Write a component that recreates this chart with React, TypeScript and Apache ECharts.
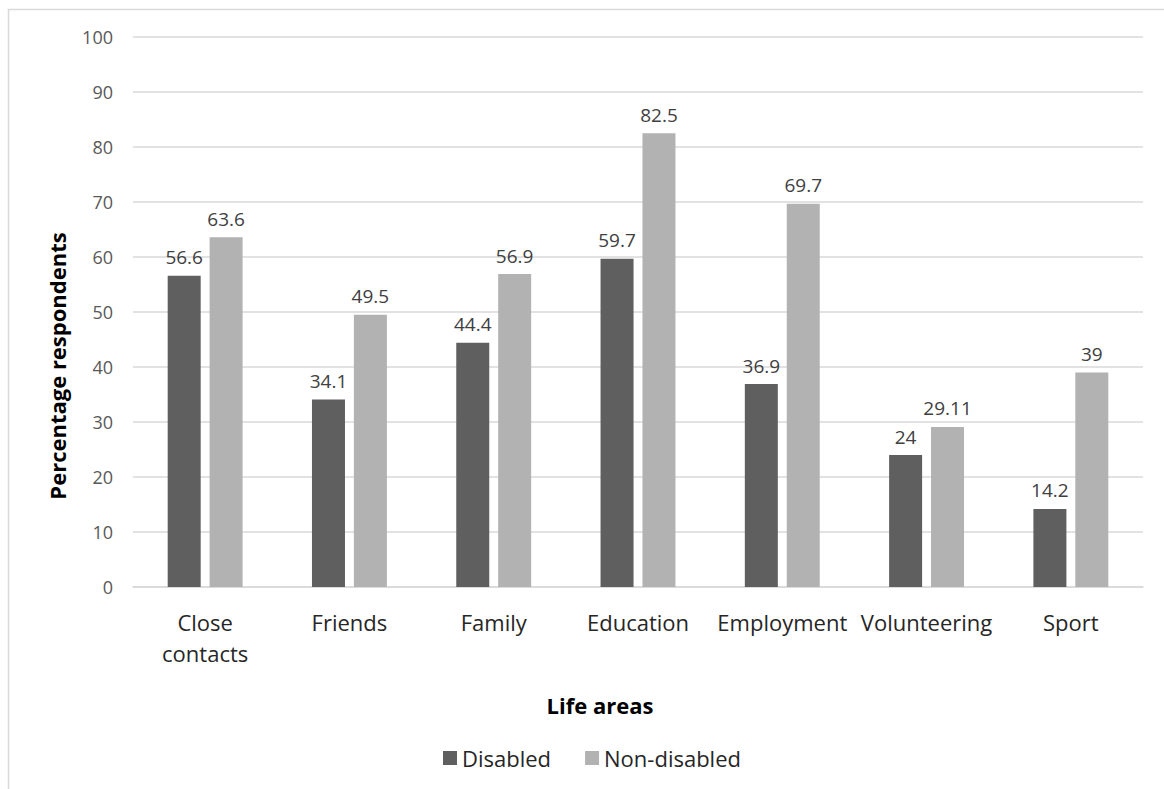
import React, { useEffect, useRef } from "react";
import * as echarts from "echarts";

const categories = [
  "Close\ncontacts",
  "Friends",
  "Family",
  "Education",
  "Employment",
  "Volunteering",
  "Sport",
];
const disabled = [56.6, 34.1, 44.4, 59.7, 36.9, 24, 14.2];
const nonDisabled = [63.6, 49.5, 56.9, 82.5, 69.7, 29.11, 39];
const yMin = 0;
const yMax = 100;
const yStep = 10;
const xTitle = "Life areas";
const yTitle = "Percentage respondents";

const FONT = "'Open Sans', Lato, sans-serif";

export default function App() {
  const ref = useRef<HTMLDivElement>(null);

  useEffect(() => {
    if (!ref.current) return;
    const chart = echarts.init(ref.current, undefined, { renderer: "svg" });
    const labelStyle = {
      show: true,
      position: "top" as const,
      distance: 9,
      color: "#404040",
      fontSize: 19,
      fontFamily: FONT,
    };
    const titleStyle = {
      fill: "#000000",
      font: `bold 22px ${FONT}`,
      textAlign: "center" as const,
      textVerticalAlign: "middle" as const,
    };
    chart.setOption({
      animation: false,
      backgroundColor: "#ffffff",
      textStyle: { fontFamily: FONT },
      graphic: [
        {
          type: "rect",
          shape: { x: 8.5, y: 9.5, width: 1300, height: 1000 },
          style: { fill: "none", stroke: "#d9d9d9", lineWidth: 1.5 },
          silent: true,
        },
        {
          type: "text",
          x: 57,
          y: 366,
          rotation: Math.PI / 2,
          style: { ...titleStyle, text: yTitle },
          silent: true,
        },
        {
          type: "text",
          x: 600,
          y: 705,
          style: { ...titleStyle, text: xTitle },
          silent: true,
        },
      ],
      grid: { left: 133, right: 21, top: 37, bottom: 202 },
      legend: {
        bottom: 15,
        left: 438,
        itemWidth: 14,
        itemHeight: 14,
        itemGap: 34,
        icon: "rect",
        textStyle: { fontSize: 22, color: "#262626", fontFamily: FONT },
        data: ["Disabled", "Non-disabled"],
      },
      xAxis: {
        type: "category",
        data: categories,
        axisLine: { lineStyle: { color: "#d9d9d9", width: 1.5 } },
        axisTick: { show: false },
        axisLabel: {
          color: "#262626",
          fontSize: 22,
          margin: 19,
          lineHeight: 31,
          interval: 0,
          fontFamily: FONT,
        },
      },
      yAxis: {
        type: "value",
        min: yMin,
        max: yMax,
        interval: yStep,
        axisLine: { show: false },
        axisTick: { show: false },
        axisLabel: { color: "#595959", fontSize: 18, margin: 20, fontFamily: FONT },
        splitLine: { lineStyle: { color: "#d9d9d9", width: 1.5 } },
      },
      series: [
        {
          name: "Disabled",
          type: "bar",
          data: disabled,
          barWidth: 33,
          barGap: "27%",
          itemStyle: { color: "#5f5f5f" },
          label: labelStyle,
        },
        {
          name: "Non-disabled",
          type: "bar",
          data: nonDisabled,
          barWidth: 33,
          barGap: "27%",
          itemStyle: { color: "#b2b2b2" },
          label: labelStyle,
        },
      ],
    });
    return () => chart.dispose();
  }, []);

  return (
    <div
      ref={ref}
      style={{ position: "fixed", left: 0, top: 0, width: 1164, height: 789 }}
    />
  );
}
